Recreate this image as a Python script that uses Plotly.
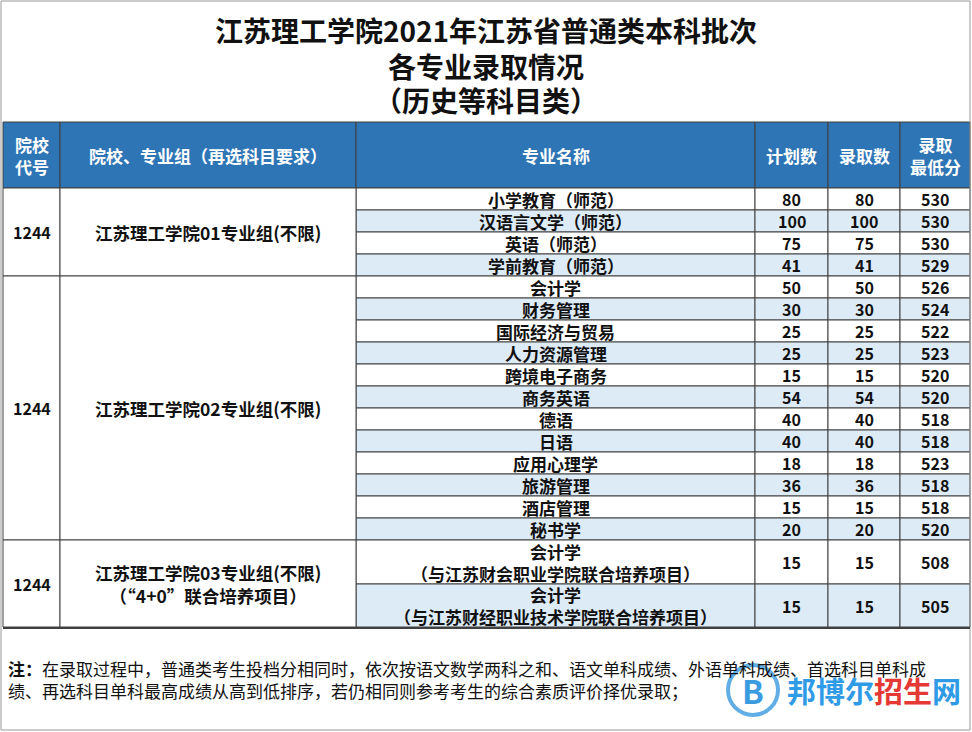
import plotly.graph_objects as go

title_lines = ["江苏理工学院2021年江苏省普通类本科批次", "各专业录取情况", "（历史等科目类）"]
headers = ["院校<br>代号", "院校、专业组（再选科目要求）", "专业名称", "计划数", "录取数", "录取<br>最低分"]
codes = ["1244", "1244", "1244"]
groups = ["江苏理工学院01专业组(不限)", "江苏理工学院02专业组(不限)", "江苏理工学院03专业组(不限)<br>（“4+0”联合培养项目）"]
group_sizes = [4, 12, 2]
majors = ["小学教育（师范）", "汉语言文学（师范）", "英语（师范）", "学前教育（师范）",
          "会计学", "财务管理", "国际经济与贸易", "人力资源管理", "跨境电子商务", "商务英语",
          "德语", "日语", "应用心理学", "旅游管理", "酒店管理", "秘书学",
          "会计学<br>（与江苏财会职业学院联合培养项目）", "会计学<br>（与江苏财经职业技术学院联合培养项目）"]
plan = [80, 100, 75, 41, 50, 30, 25, 25, 15, 54, 40, 40, 18, 36, 15, 20, 15, 15]
admitted = [80, 100, 75, 41, 50, 30, 25, 25, 15, 54, 40, 40, 18, 36, 15, 20, 15, 15]
min_score = [530, 530, 530, 529, 526, 524, 522, 523, 520, 520, 518, 518, 523, 518, 518, 520, 508, 505]
note = ("<b>注：</b>在录取过程中，普通类考生投档分相同时，依次按语文数学两科之和、语文单科成绩、外语单科成绩、首选科目单科成<br>"
        "绩、再选科目单科最高成绩从高到低排序，若仍相同则参考考生的综合素质评价择优录取；")

W, H = 972, 732
colx = [3, 60, 356, 755, 828, 900, 970]
hdr_top, hdr_bot = 122, 188
row_h = [22] * 16 + [44, 43]
FONT = "Noto Sans CJK SC"
BLUE = "#2E75B6"
LIGHT = "#DDEBF7"
LINE = "#404040"

fig = go.Figure()
shapes, ann = [], []

def rect(x0, y0, x1, y1, fill, lw=1):
    shapes.append(dict(type="rect", xref="x", yref="y", x0=x0, y0=y0, x1=x1, y1=y1,
                       fillcolor=fill, line=dict(color=LINE, width=lw), layer="below"))

def text(x, y, t, size=15, color="#111", bold=True, xanchor="center"):
    ann.append(dict(x=x, y=y, xref="x", yref="y", text=(f"<b>{t}</b>" if bold else t),
                    showarrow=False, xanchor=xanchor, yanchor="middle",
                    font=dict(family=FONT, size=size, color=color)))

shapes.append(dict(type="rect", x0=1, y0=1, x1=970, y1=730, line=dict(color="#999", width=1)))
for i, t in enumerate(title_lines):
    text(486, [30, 66, 100][i], t, size=28)

for i, h in enumerate(headers):
    rect(colx[i], hdr_top, colx[i + 1], hdr_bot, BLUE)
    text((colx[i] + colx[i + 1]) / 2, (hdr_top + hdr_bot) / 2, h, size=17, color="white")

ys = [hdr_bot]
for h in row_h:
    ys.append(ys[-1] + h)
for r in range(len(majors)):
    fill = LIGHT if r % 2 == 1 else "white"
    y0, y1 = ys[r], ys[r + 1]
    ym = (y0 + y1) / 2
    rect(colx[2], y0, colx[3], y1, fill)
    text((colx[2] + colx[3]) / 2, ym, majors[r], size=17)
    for c, vals in zip([3, 4, 5], [plan, admitted, min_score]):
        rect(colx[c], y0, colx[c + 1], y1, fill)
        text((colx[c] + colx[c + 1]) / 2, ym, str(vals[r]), size=16)

start = 0
for g, n in enumerate(group_sizes):
    y0, y1 = ys[start], ys[start + n]
    rect(colx[0], y0, colx[1], y1, "white")
    rect(colx[1], y0, colx[2], y1, "white")
    text((colx[0] + colx[1]) / 2, (y0 + y1) / 2, codes[g], size=16)
    text((colx[1] + colx[2]) / 2, (y0 + y1) / 2, groups[g], size=17.5)
    start += n

shapes.append(dict(type="line", x0=3, x1=970, y0=ys[-1] + 1, y1=ys[-1] + 1, line=dict(color=LINE, width=2)))
ann.append(dict(x=6, y=679, xref="x", yref="y", text=note, showarrow=False, xanchor="left",
                yanchor="middle", align="left", font=dict(family=FONT, size=17, color="#111")))
shapes.append(dict(type="circle", x0=728, y0=665, x1=778, y1=715, line=dict(color="#3A9BE0", width=4), opacity=0.8))
text(753, 690, "B", size=32, color="#3A9BE0")
ann.append(dict(x=785, y=690, xref="x", yref="y", showarrow=False, xanchor="left", yanchor="middle",
                text="<b>邦博尔<span style='color:#E53935'>招生</span>网</b>",
                font=dict(family=FONT, size=29, color="#2F9BE6")))

fig.add_trace(go.Scatter(x=[0, W], y=[0, H], mode="markers", marker=dict(opacity=0), hoverinfo="skip"))
fig.update_layout(width=W, height=H, margin=dict(l=0, r=0, t=0, b=0), plot_bgcolor="white",
                  paper_bgcolor="white", shapes=shapes, annotations=ann, showlegend=False,
                  xaxis=dict(range=[0, W], visible=False, fixedrange=True),
                  yaxis=dict(range=[H, 0], visible=False, fixedrange=True))
fig.write_html("out.html", config={"displayModeBar": False},
               post_script="document.body.style.margin='0';document.body.style.overflow='hidden';")
